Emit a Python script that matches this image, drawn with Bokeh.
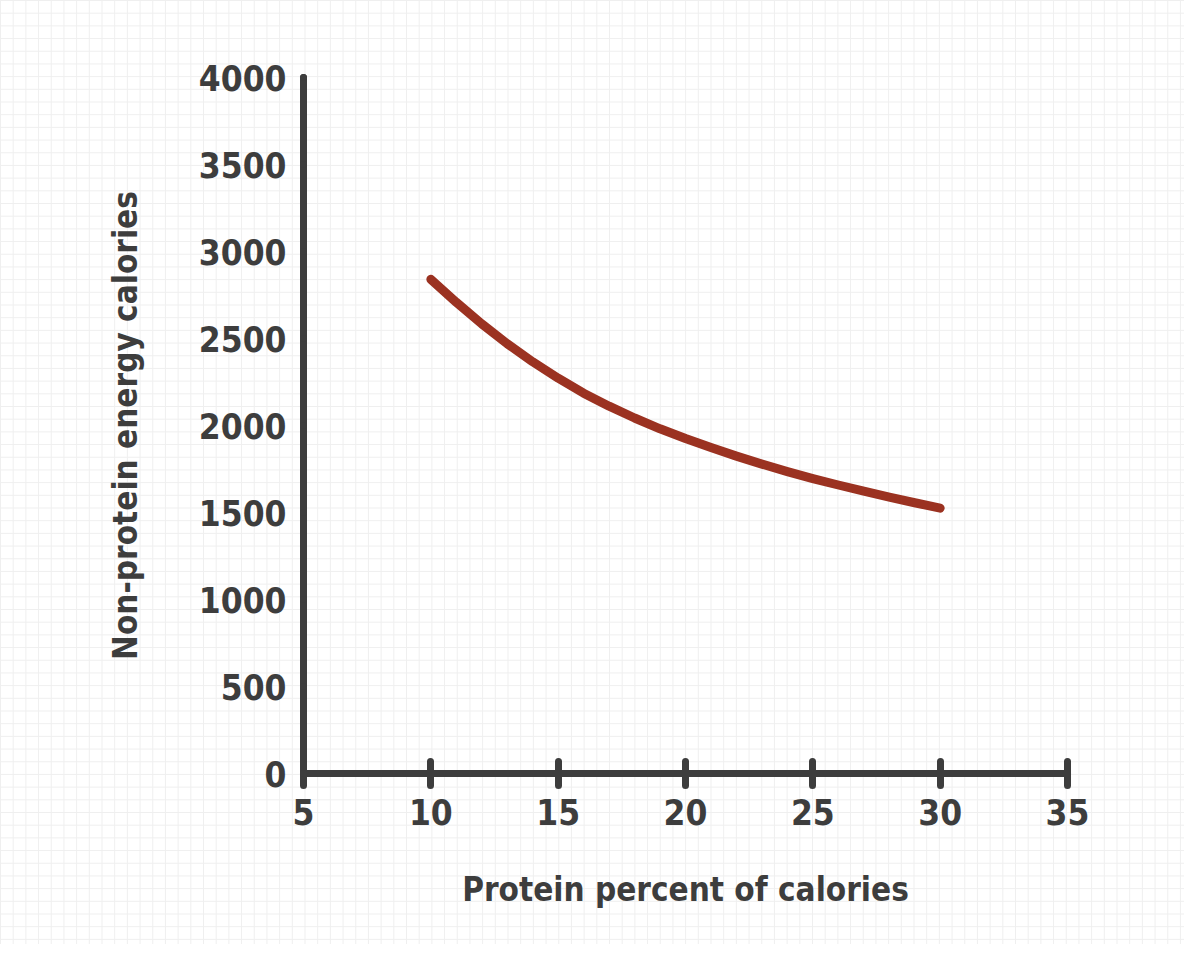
from bokeh.plotting import figure
from bokeh.models import FixedTicker
from bokeh.embed import file_html
from bokeh.resources import INLINE

# Data
protein_pct = [10, 11, 12, 13, 14, 15, 16, 17, 18, 19, 20,
               21, 22, 23, 24, 25, 26, 27, 28, 29, 30]
non_protein_cal = [2840, 2708, 2584, 2470, 2366, 2272, 2186, 2111, 2043, 1981, 1925,
                   1873, 1824, 1778, 1735, 1695, 1658, 1623, 1589, 1556, 1525]
x_ticks = [5, 10, 15, 20, 25, 30, 35]
y_ticks = [0, 500, 1000, 1500, 2000, 2500, 3000, 3500, 4000]
x_title = "Protein percent of calories"
y_title = "Non-protein energy calories"

FONT = "DejaVu Sans Condensed, sans-serif"
INK = "#3d3d3d"

p = figure(width=1184, height=944, output_backend="svg", toolbar_location=None,
           x_range=(5, 35), y_range=(0, 4000),
           min_border_left=303, min_border_right=117,
           min_border_top=77, min_border_bottom=171)

p.background_fill_color = None
p.border_fill_color = None
p.outline_line_color = None
p.styles = {
    "background-color": "white",
    "background-image": "linear-gradient(#efefef 1px, transparent 1px), linear-gradient(90deg, #efefef 1px, transparent 1px)",
    "background-size": "12.7px 12.7px",
}
p.grid.visible = False

p.line(protein_pct, non_protein_cal, line_color="#9b3221", line_width=9,
       line_cap="round", line_join="round")

for ax in (p.xaxis[0], p.yaxis[0]):
    ax.axis_line_color = INK
    ax.axis_line_width = 7
    ax.axis_line_cap = "round"
    ax.major_tick_line_color = INK
    ax.major_tick_line_width = 7
    ax.major_tick_line_cap = "round"
    ax.minor_tick_line_color = None
    ax.major_label_text_font = FONT
    ax.major_label_text_font_style = "bold"
    ax.major_label_text_font_size = "35px"
    ax.major_label_text_color = INK
    ax.axis_label_text_font = FONT
    ax.axis_label_text_font_style = "bold"
    ax.axis_label_text_font_size = "33px"
    ax.axis_label_text_color = INK

p.xaxis.ticker = FixedTicker(ticks=x_ticks)
p.yaxis.ticker = FixedTicker(ticks=y_ticks)
p.xaxis.major_tick_in = 12
p.xaxis.major_tick_out = 12
p.xaxis.major_label_standoff = 13
p.xaxis.axis_label = x_title
p.xaxis.axis_label_standoff = 42

p.yaxis.major_tick_in = 0
p.yaxis.major_tick_out = 0
p.yaxis.major_label_standoff = 17
p.yaxis.axis_label = y_title
p.yaxis.axis_label_standoff = 51

open("out.html", "w").write(file_html(p, INLINE))
